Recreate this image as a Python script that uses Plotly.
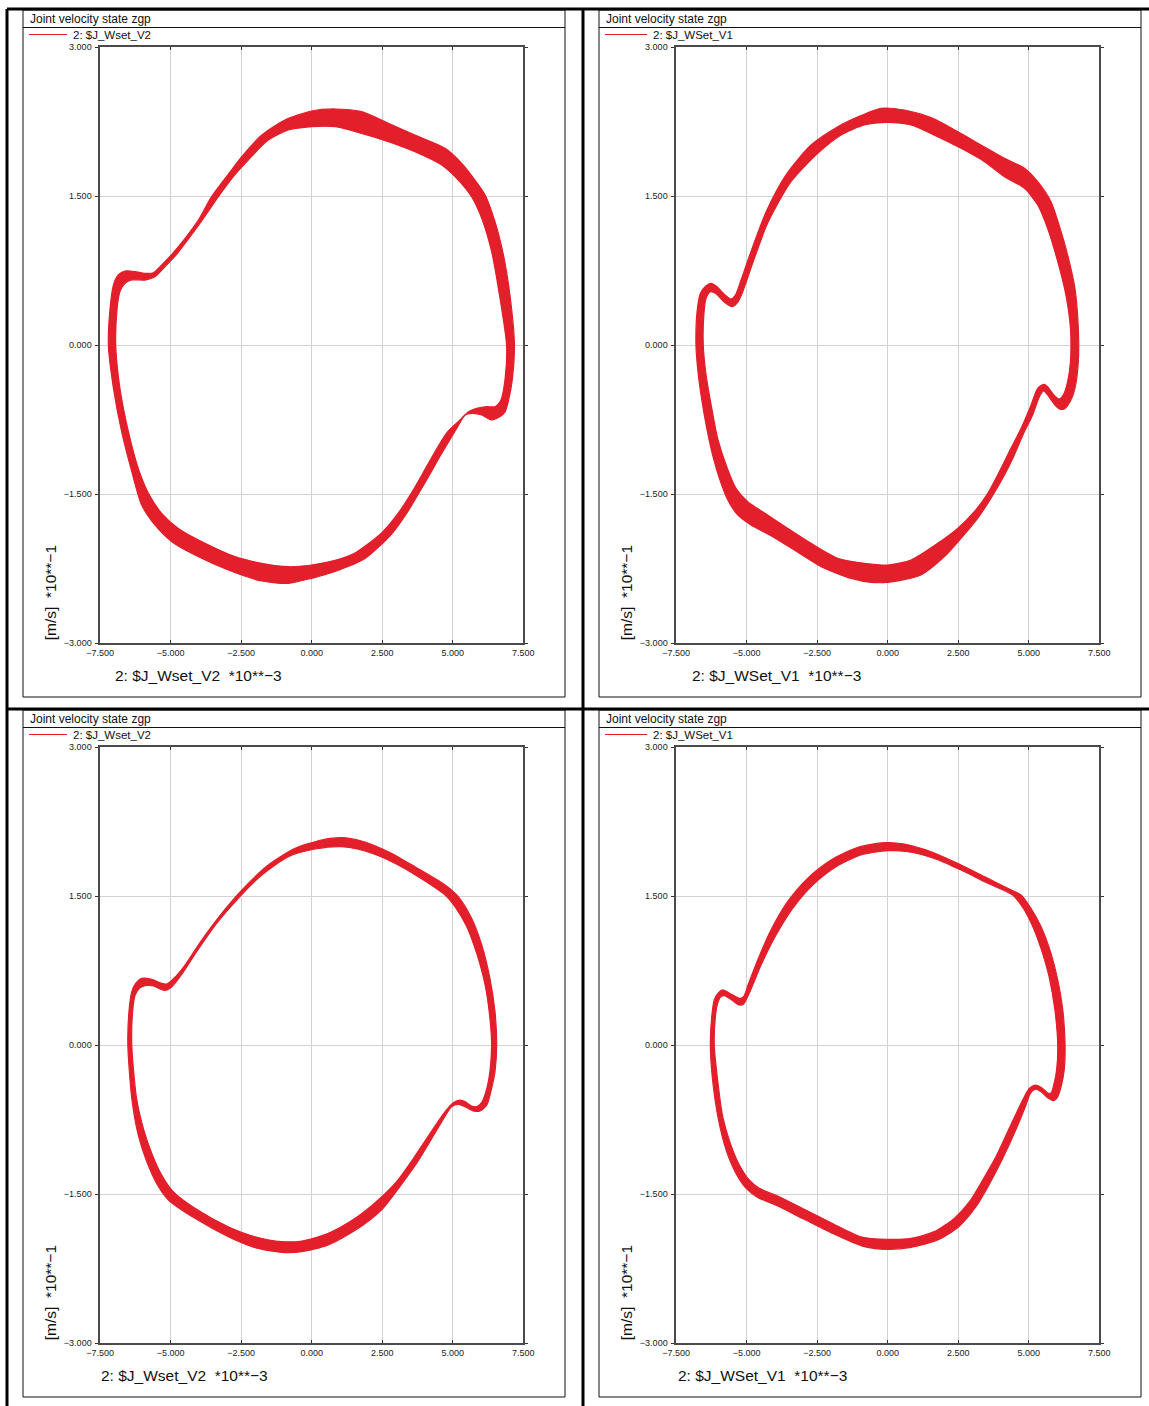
import plotly.graph_objects as go

W, H = 1149, 1406

# ---------------- data ----------------
x_tick_vals = [-7.5, -5.0, -2.5, 0.0, 2.5, 5.0, 7.5]
x_tick_text = ["\u22127.500", "\u22125.000", "\u22122.500", "0.000", "2.500", "5.000", "7.500"]
y_tick_vals = [-3.0, -1.5, 0.0, 1.5, 3.0]
y_tick_text = ["\u22123.000", "\u22121.500", "0.000", "1.500", "3.000"]

panel_titles = ["Joint velocity state zgp"] * 4
legend_names = ["2: $J_Wset_V2", "2: $J_WSet_V1", "2: $J_Wset_V2", "2: $J_WSet_V1"]
x_titles = ["2: $J_Wset_V2  *10**\u22123", "2: $J_WSet_V1  *10**\u22123",
            "2: $J_Wset_V2  *10**\u22123", "2: $J_WSet_V1  *10**\u22123"]
y_title = "[m/s]  *10**\u22121"

# top-left panel: outer and inner edge of the bundle of loops
tl_outer_x = [-7.21, -7.15, -7.03, -6.86, -6.62, -6.26, -5.91, -5.61, -5.38, -4.96, -4.49, -4.02, -3.55, -2.96,
              -2.48, -1.77, -0.95, 0.00, 0.83, 1.77, 2.72, 3.66, 4.73, 5.32, 5.79, 6.15, 6.50, 6.80, 7.03, 7.19,
              7.12, 6.97, 6.86, 6.68, 6.38, 6.03, 5.67, 5.44, 5.14, 4.55, 3.95, 3.40, 2.84, 1.89, 0.83,
              0.00, -0.83, -1.77, -2.96, -4.14, -4.96, -5.56, -6.03, -6.38, -6.74, -7.03]
tl_outer_y = [0.000, 0.369, 0.604, 0.705, 0.745, 0.738, 0.721, 0.728, 0.789, 0.913, 1.074, 1.258, 1.493, 1.718,
              1.896, 2.114, 2.265, 2.356, 2.376, 2.349, 2.232, 2.114, 1.980, 1.829, 1.661, 1.510, 1.242, 0.906,
              0.503, 0.000, -0.336, -0.570, -0.671, -0.721, -0.755, -0.705, -0.688, -0.705, -0.840, -1.120,
              -1.420, -1.680, -1.900, -2.150, -2.280, -2.349, -2.399, -2.376, -2.265, -2.114,
              -1.980, -1.812, -1.611, -1.275, -0.872, -0.436]
tl_inner_x = [-6.95, -6.90, -6.80, -6.62, -6.38, -5.91, -5.56, -5.20, -4.79, -4.31, -3.84, -3.31, -2.78, -2.25,
              -1.54, -0.83, 0.00, 0.83, 1.77, 2.72, 3.66, 4.61, 5.20, 5.67, 6.03, 6.38, 6.62, 6.91, 6.86, 6.71,
              6.50, 6.21, 5.85, 5.56, 5.26, 4.80, 4.20, 3.60, 3.05, 2.45, 1.50, 0.83, 0.00, -0.83, -1.77,
              -2.72, -3.78, -4.73, -5.32, -5.79, -6.15, -6.50, -6.80]
tl_inner_y = [0.000, 0.369, 0.537, 0.621, 0.654, 0.654, 0.688, 0.789, 0.913, 1.091, 1.275, 1.493, 1.695, 1.862,
              2.064, 2.164, 2.198, 2.198, 2.131, 2.047, 1.946, 1.812, 1.661, 1.493, 1.275, 0.940, 0.570, 0.000,
              -0.336, -0.554, -0.621, -0.621, -0.638, -0.671, -0.755, -0.880, -1.160, -1.460, -1.700, -1.900,
              -2.100, -2.168, -2.215, -2.232, -2.198, -2.131, -1.997, -1.846, -1.695, -1.493, -1.242,
              -0.872, -0.436]

# top-right panel
tr_outer_x = [-6.80, -6.76, -6.64, -6.44, -6.26, -6.05, -5.79, -5.56, -5.40, -5.20, -4.85, -4.31, -3.61, -2.72,
              -1.77, -0.95, -0.24, 0.59, 1.54, 2.48, 3.31, 4.14, 4.85, 5.32, 5.79, 6.15, 6.44, 6.64, 6.76, 6.76,
              6.64, 6.48, 6.26, 6.09, 5.91, 5.67, 5.53, 5.38, 5.14, 4.85, 4.49, 4.14, 3.66, 3.19, 2.60, 2.01,
              1.18, 0.00, -0.59, -1.30, -2.36, -3.31, -4.14, -4.85, -5.32, -5.67, -5.97, -6.21, -6.44, -6.62, -6.74]
tr_outer_y = [0.000, 0.336, 0.520, 0.597, 0.621, 0.587, 0.510, 0.463, 0.503, 0.654, 0.940, 1.342, 1.711, 2.013,
              2.198, 2.309, 2.383, 2.366, 2.289, 2.148, 2.013, 1.879, 1.779, 1.644, 1.443, 1.141, 0.839, 0.570,
              0.168, -0.168, -0.436, -0.564, -0.644, -0.644, -0.597, -0.503, -0.463, -0.520, -0.705, -0.872,
              -1.107, -1.309, -1.544, -1.745, -1.946, -2.131, -2.315, -2.389, -2.389, -2.349, -2.232, -2.064,
              -1.919, -1.812, -1.711, -1.560, -1.342, -1.107, -0.805, -0.503, -0.235]
tr_inner_x = [-6.54, -6.52, -6.44, -6.29, -6.11, -5.79, -5.53, -5.32, -5.14, -4.79, -4.26, -3.43, -2.48, -1.65,
              -0.83, 0.00, 0.83, 1.77, 2.60, 3.43, 4.14, 4.85, 5.32, 5.67, 6.03, 6.32, 6.48, 6.48, 6.38, 6.24,
              6.09, 5.89, 5.67, 5.53, 5.32, 5.06, 4.73, 4.37, 4.02, 3.55, 3.07, 2.48, 1.77, 0.83, 0.00, -0.83,
              -1.77, -2.72, -3.55, -4.26, -4.96, -5.38, -5.73, -6.03, -6.26, -6.44]
tr_inner_y = [0.000, 0.302, 0.470, 0.537, 0.520, 0.430, 0.386, 0.430, 0.537, 0.822, 1.225, 1.644, 1.930, 2.114,
              2.215, 2.242, 2.215, 2.097, 1.980, 1.846, 1.695, 1.577, 1.409, 1.174, 0.839, 0.503, 0.168, -0.168,
              -0.369, -0.497, -0.544, -0.503, -0.419, -0.396, -0.436, -0.621, -0.839, -1.040, -1.242, -1.493,
              -1.678, -1.846, -1.997, -2.164, -2.215, -2.198, -2.148, -1.997, -1.846, -1.711, -1.577, -1.443,
              -1.208, -0.940, -0.604, -0.302]

# bottom-left panel
bl_outer_x = [-6.52, -6.48, -6.38, -6.24, -6.03, -5.67, -5.32, -5.14, -4.91, -4.49, -3.90, -3.19, -2.48, -1.54,
              -0.59, 0.35, 1.06, 1.77, 2.72, 3.66, 4.73, 5.20, 5.67, 6.03, 6.32, 6.50, 6.56, 6.50, 6.38, 6.21,
              5.97, 5.73, 5.44, 5.20, 4.96, 4.72, 4.26, 3.68, 3.08, 2.48, 1.60, 0.59, -0.35, -1.06, -2.01, -2.96,
              -4.14, -5.08, -5.50, -5.85, -6.15, -6.38]
bl_outer_y = [0.000, 0.336, 0.537, 0.621, 0.671, 0.661, 0.621, 0.614, 0.664, 0.805, 1.057, 1.326, 1.560, 1.812,
              1.980, 2.064, 2.087, 2.054, 1.946, 1.795, 1.611, 1.493, 1.275, 1.007, 0.671, 0.336, 0.000, -0.268,
              -0.436, -0.604, -0.664, -0.664, -0.621, -0.597, -0.621, -0.721, -0.940, -1.208, -1.443, -1.660,
              -1.856, -2.013, -2.081, -2.087, -2.040, -1.930, -1.745, -1.560, -1.393, -1.174, -0.906, -0.537]
bl_inner_x = [-6.38, -6.35, -6.26, -6.11, -5.91, -5.61, -5.38, -5.18, -4.96, -4.61, -4.08, -3.37, -2.60, -1.77,
              -0.83, 0.12, 1.06, 1.89, 2.84, 3.78, 4.73, 5.08, 5.50, 5.85, 6.15, 6.32, 6.38, 6.32, 6.21, 6.03,
              5.85, 5.67, 5.44, 5.26, 5.02, 4.73, 4.20, 3.61, 3.01, 2.36, 1.54, 0.59, -0.35, -1.06, -2.01, -2.96,
              -4.14, -4.91, -5.32, -5.67, -5.97, -6.21]
bl_inner_y = [0.000, 0.336, 0.503, 0.570, 0.597, 0.594, 0.564, 0.550, 0.587, 0.711, 0.940, 1.225, 1.477, 1.711,
              1.896, 1.973, 1.997, 1.953, 1.846, 1.695, 1.510, 1.393, 1.191, 0.923, 0.604, 0.268, 0.000, -0.268,
              -0.436, -0.577, -0.621, -0.614, -0.570, -0.554, -0.581, -0.671, -0.889, -1.141, -1.376, -1.560,
              -1.745, -1.896, -1.973, -1.980, -1.930, -1.829, -1.644, -1.477, -1.309, -1.091, -0.839, -0.537]

# bottom-right panel
br_outer_x = [-6.29, -6.24, -6.15, -6.00, -5.85, -5.56, -5.26, -5.11, -4.94, -4.61, -4.14, -3.55, -2.84, -2.01,
              -1.06, -0.12, 0.59, 1.54, 2.48, 3.43, 4.26, 4.73, 5.08, 5.44, 5.79, 6.03, 6.21, 6.29, 6.26, 6.15,
              6.03, 5.89, 5.67, 5.44, 5.22, 5.06, 4.88, 4.54, 4.08, 3.62, 3.13, 2.52, 1.77, 0.83, 0.00, -0.83,
              -2.01, -2.96, -3.90, -4.61, -5.02, -5.38, -5.73, -6.00, -6.21]
br_outer_y = [0.000, 0.285, 0.453, 0.527, 0.554, 0.513, 0.470, 0.487, 0.614, 0.856, 1.158, 1.443, 1.678, 1.862,
              1.990, 2.037, 2.023, 1.946, 1.829, 1.695, 1.577, 1.510, 1.376, 1.191, 0.923, 0.654, 0.352, 0.000,
              -0.252, -0.419, -0.520, -0.560, -0.530, -0.470, -0.446, -0.487, -0.621, -0.856, -1.141, -1.393,
              -1.628, -1.829, -1.963, -2.037, -2.057, -2.030, -1.889, -1.755, -1.621, -1.534, -1.443, -1.292,
              -1.057, -0.755, -0.352]
br_inner_x = [-6.15, -6.11, -6.03, -5.91, -5.79, -5.53, -5.26, -5.11, -4.91, -4.49, -3.96, -3.37, -2.66, -1.83,
              -0.95, 0.00, 0.71, 1.65, 2.60, 3.55, 4.43, 4.80, 5.10, 5.45, 5.72, 5.93, 6.03, 5.99, 5.89, 5.80,
              5.70, 5.46, 5.24, 5.02, 4.73, 4.31, 3.84, 3.37, 2.90, 2.36, 1.65, 0.83, 0.00, -0.95, -2.01, -2.96,
              -3.90, -4.55, -4.91, -5.26, -5.58, -5.85, -6.03]
br_inner_y = [0.000, 0.285, 0.419, 0.487, 0.497, 0.453, 0.403, 0.413, 0.520, 0.805, 1.107, 1.376, 1.611, 1.795,
              1.913, 1.956, 1.946, 1.879, 1.762, 1.628, 1.510, 1.380, 1.220, 0.960, 0.690, 0.350, 0.000, -0.250,
              -0.400, -0.480, -0.487, -0.430, -0.403, -0.436, -0.587, -0.839, -1.124, -1.359, -1.577, -1.745,
              -1.879, -1.946, -1.956, -1.930, -1.789, -1.654, -1.520, -1.443, -1.359, -1.208, -0.990, -0.721,
              -0.352]

panels = [
    (tl_outer_x, tl_outer_y, tl_inner_x, tl_inner_y),
    (tr_outer_x, tr_outer_y, tr_inner_x, tr_inner_y),
    (bl_outer_x, bl_outer_y, bl_inner_x, bl_inner_y),
    (br_outer_x, br_outer_y, br_inner_x, br_inner_y),
]

# ---------------- layout geometry (pixels) ----------------
RED = "#e21f2b"
FONT = "Liberation Sans"

def px(x):
    return x / W

def py(y):
    return 1 - y / H

# plot areas: (left, right, top, bottom) in pixels
areas = [(100.2, 523.2, 47, 643), (676.2, 1099.2, 47, 643),
         (100.2, 523.2, 747, 1343), (676.2, 1099.2, 747, 1343)]
# panel boxes: (left, right, top, bottom)
boxes = [(23, 565, 10, 697), (599, 1141, 10, 697), (23, 565, 710, 1397), (599, 1141, 710, 1397)]

fig = go.Figure()
layout = dict(template="none", width=W, height=H,
              margin=dict(l=0, r=0, t=0, b=0, pad=0, autoexpand=False), autosize=False,
              paper_bgcolor="white", plot_bgcolor="white", showlegend=False,
              font=dict(family=FONT, color="#222"))

shapes = []
annotations = []

for i, (ox, oy, ix, iy) in enumerate(panels):
    n = "" if i == 0 else str(i + 1)
    l, r, t, b = areas[i]
    common = dict(showgrid=True, gridcolor="#d2d2d2", gridwidth=1, zeroline=False,
                  showline=True, linecolor="#4a4a4a", linewidth=1.5, mirror="ticks",
                  ticklen=3, tickwidth=1, tickcolor="#333",
                  tickfont=dict(size=9, family=FONT, color="#222"), automargin=False, fixedrange=True)
    ax = dict(range=[-7.5, 7.5], domain=[px(l), px(r)], tickvals=x_tick_vals, ticktext=x_tick_text,
              ticks="inside", anchor="y" + n, **common)
    ay = dict(range=[-3, 3], domain=[py(b), py(t)], tickvals=y_tick_vals, ticktext=y_tick_text,
              ticks="outside", ticklabelstandoff=2, anchor="x" + n, **common)
    layout["xaxis" + n] = ax
    layout["yaxis" + n] = ay

    inner_rev_x = ix[::-1]
    inner_rev_y = iy[::-1]
    xs = ox + [ox[0]] + [None] + inner_rev_x + [inner_rev_x[0]]
    ys = oy + [oy[0]] + [None] + inner_rev_y + [inner_rev_y[0]]
    fig.add_trace(go.Scatter(x=xs, y=ys, mode="lines", fill="toself", fillcolor=RED,
                             line=dict(color=RED, width=1.2, shape="spline", smoothing=0.7),
                             name=legend_names[i], xaxis="x" + n, yaxis="y" + n, hoverinfo="skip"))

    # panel box and header line
    bl_, br_, bt, bb = boxes[i]
    shapes.append(dict(type="rect", xref="paper", yref="paper", x0=px(bl_), x1=px(br_), y0=py(bb), y1=py(bt),
                       line=dict(color="#111", width=1)))
    shapes.append(dict(type="line", xref="paper", yref="paper", x0=px(bl_), x1=px(br_), y0=py(bt + 17.5),
                       y1=py(bt + 17.5), line=dict(color="#111", width=1)))
    # title
    annotations.append(dict(text=panel_titles[i], xref="paper", yref="paper", x=px(bl_ + 4.5), y=py(bt + 8.5),
                            xanchor="left", yanchor="middle", showarrow=False,
                            font=dict(size=12, family=FONT, color="#111")))
    # legend sample and text
    lx0 = bl_ + 6
    lx1 = lx0 + (38 if i % 2 == 0 else 42)
    ly = bt + 24.5
    shapes.append(dict(type="line", xref="paper", yref="paper", x0=px(lx0), x1=px(lx1), y0=py(ly), y1=py(ly),
                       line=dict(color=RED, width=1)))
    annotations.append(dict(text=legend_names[i], xref="paper", yref="paper", x=px(lx1 + 4), y=py(ly + 0.5),
                            xanchor="left", yanchor="middle", showarrow=False,
                            font=dict(size=11.5, family=FONT, color="#111")))
    # x axis title
    xt_left = [113, 690, 99, 676][i]
    annotations.append(dict(text=x_titles[i], xref="paper", yref="paper", x=px(xt_left), y=py(b + 32),
                            xanchor="left", yanchor="middle", showarrow=False,
                            font=dict(size=15.5, family=FONT, color="#111")))
    # y axis title (rotated)
    annotations.append(dict(text=y_title, xref="paper", yref="paper", x=px(l - 50), y=py(b - 50),
                            xanchor="center", yanchor="middle", showarrow=False, textangle=-90,
                            font=dict(size=15.5, family=FONT, color="#111")))

# thick frame lines
for (x0, y0, x1, y1) in [(7, 9, W, 9), (7, 9, 7, H), (583, 9, 583, H), (7, 709, W, 709)]:
    shapes.append(dict(type="line", xref="paper", yref="paper", x0=px(x0), x1=px(x1), y0=py(y0), y1=py(y1),
                       line=dict(color="#000", width=3)))

layout["shapes"] = shapes
layout["annotations"] = annotations
fig.update_layout(**layout)

fig.write_html(
    "out.html",
    config={"displayModeBar": False, "responsive": False},
    post_script=("document.documentElement.style.margin='0px';document.documentElement.style.padding='0px';"
                 "document.documentElement.style.overflow='hidden';"
                 "document.body.style.margin='0px';document.body.style.padding='0px';"
                 "document.body.style.overflow='hidden';"),
)
